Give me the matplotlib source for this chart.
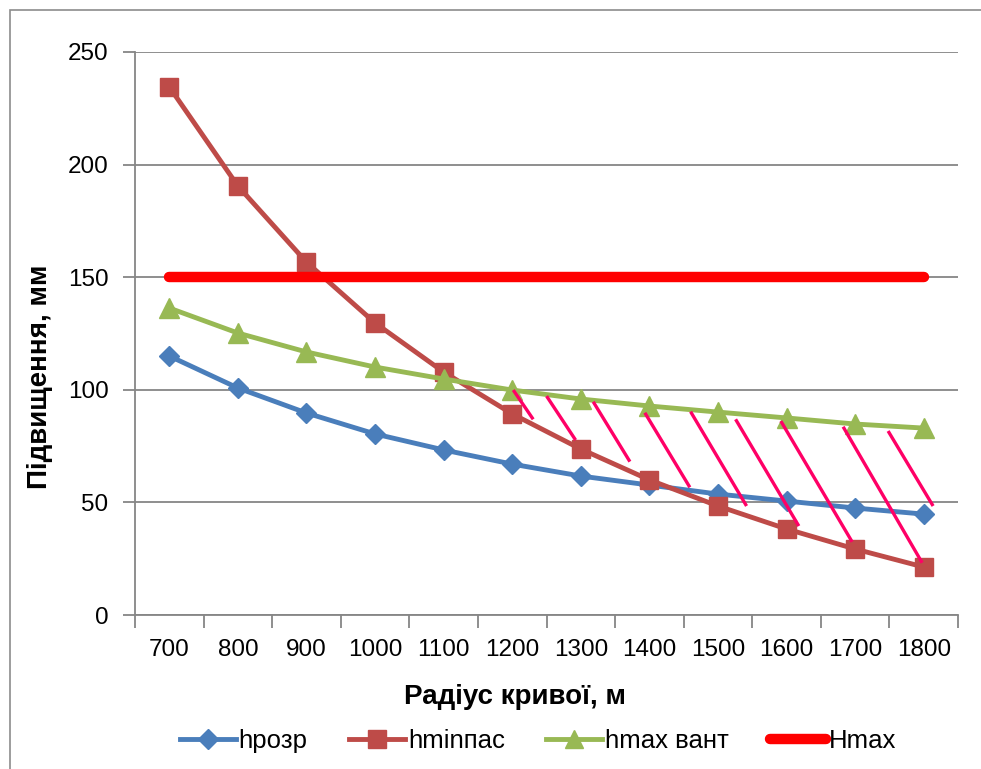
import matplotlib
matplotlib.use("Agg")
import matplotlib.pyplot as plt
from matplotlib.lines import Line2D
from matplotlib.patches import Rectangle

# Curve radius categories, m
radii = [700, 800, 900, 1000, 1100, 1200, 1300, 1400, 1500, 1600, 1700, 1800]

# Superelevation values, mm
h_rozr = [115, 100.8, 89.7, 80.4, 73.3, 67.0, 61.7, 57.7, 53.7, 50.6, 47.5, 44.8]
h_min_pas = [234.5, 190.5, 156.7, 129.7, 107.9, 89.3, 73.7, 60.0, 48.4, 38.2, 29.3, 21.3]
h_max_vant = [136.3, 125.2, 116.8, 110.1, 104.8, 99.9, 95.9, 92.8, 90.1, 87.5, 84.8, 83.0]
H_max = [150] * len(radii)

series_names = ["hрозр", "hminпас", "hmax вант", "Hmax"]
y_ticks = [0, 50, 100, 150, 200, 250]

# Hatching of the admissible zone: (x0, y0, x1, y1) in category-index / mm units
hatch_segments = [
    (5.015, 99.9, 5.306, 86.9),
    (5.501, 97.2, 5.924, 77.7),
    (6.181, 94.7, 6.716, 68.1),
    (6.934, 89.8, 7.590, 56.7),
    (7.601, 90.3, 8.417, 48.4),
    (8.257, 86.9, 9.179, 39.5),
    (8.917, 86.1, 9.956, 32.5),
    (9.825, 83.6, 10.977, 23.2),
    (10.481, 81.7, 11.137, 48.4),
]

FONT = ["Liberation Sans", "DejaVu Sans"]
plt.rcParams["font.family"] = FONT

W, H = 981, 769
fig = plt.figure(figsize=(W / 100, H / 100), dpi=100)
fig.patch.set_facecolor("white")

# outer chart frame
fig.add_artist(Rectangle((10 / W, -0.1), 1.2, 1 - 10 / H + 0.1, transform=fig.transFigure,
                         fill=False, edgecolor="#8c8c8c", linewidth=1.2))

ax = fig.add_axes([135 / W, 1 - 615 / H, (958 - 135) / W, (615 - 52) / H])

x = list(range(len(radii)))
grid_c = "#868686"

ax.set_xlim(-0.5, len(radii) - 0.5)
ax.set_ylim(0, 250)
ax.set_yticks(y_ticks)
ax.set_yticklabels([str(v) for v in y_ticks])
ax.yaxis.grid(True, color=grid_c, linewidth=1.3)
ax.set_axisbelow(True)

ax.set_xticks(x)
ax.set_xticklabels([str(r) for r in radii])
ax.set_xticks([i - 0.5 for i in range(len(radii) + 1)], minor=True)
ax.tick_params(axis="x", which="major", length=0, pad=17, labelsize=17.5)
ax.tick_params(axis="x", which="minor", length=9, width=1.3, color=grid_c, direction="out")
ax.tick_params(axis="y", length=9, width=1.3, color=grid_c, pad=10, labelsize=17.5)

for side in ["top", "right"]:
    ax.spines[side].set_visible(False)
for side in ["left", "bottom"]:
    ax.spines[side].set_color(grid_c)
    ax.spines[side].set_linewidth(1.3)

blue, red, green, hred = "#4A7EBB", "#BE4B48", "#98B954", "#FF0000"

ax.plot(x, h_rozr, color=blue, linewidth=3.5, marker="D", markersize=10, zorder=4)
ax.plot(x, h_min_pas, color=red, linewidth=3.5, marker="s", markersize=13, zorder=4)
ax.plot(x, h_max_vant, color=green, linewidth=3.5, marker="^", markersize=14, zorder=5)
ax.plot(x, H_max, color=hred, linewidth=7.5, solid_capstyle="round", zorder=6)

for x0, y0, x1, y1 in hatch_segments:
    ax.plot([x0, x1], [y0, y1], color="#FF0066", linewidth=2.4, zorder=7,
            solid_capstyle="butt")

fig.text(515 / W, 1 - 697 / H, "Радіус кривої, м", ha="center", va="center",
         fontsize=20, fontweight="bold")
fig.text(40 / W, 1 - 377 / H, "Підвищення, мм", ha="center", va="center",
         rotation=90, fontsize=20, fontweight="bold")

handles = [
    Line2D([], [], color=blue, linewidth=3.5, marker="D", markersize=10),
    Line2D([], [], color=red, linewidth=3.5, marker="s", markersize=13),
    Line2D([], [], color=green, linewidth=3.5, marker="^", markersize=13),
    Line2D([], [], color=hred, linewidth=7.5, solid_capstyle="round"),
]
fig.legend(handles, series_names, loc="center", bbox_to_anchor=(538 / W, 1 - 741 / H),
           ncol=4, frameon=False, fontsize=18.5, handlelength=2.2, handletextpad=0.1,
           columnspacing=1.6)

fig.savefig("out.png", dpi=100, facecolor="white")
